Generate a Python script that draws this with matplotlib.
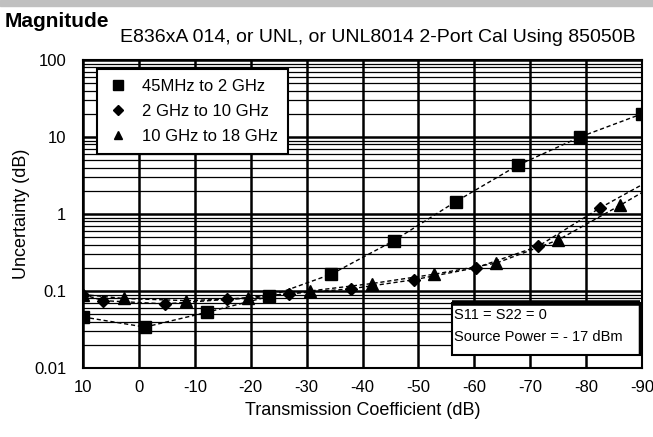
import matplotlib
matplotlib.use("Agg")
import matplotlib.pyplot as plt
from matplotlib.patches import Rectangle
from matplotlib.lines import Line2D

plt.rcParams['font.family'] = ['Liberation Sans', 'DejaVu Sans']

# Datos
x_sq = [10, -1.1, -12.2, -23.3, -34.4, -45.6, -56.7, -67.8, -78.9, -90]
y_sq = [0.046, 0.034, 0.053, 0.085, 0.165, 0.45, 1.45, 4.3, 10, 20]

x_dia = [10, 6.4, -4.7, -15.8, -26.9, -38, -49.2, -60.3, -71.4, -82.5, -90]
y_dia = [0.09, 0.075, 0.068, 0.078, 0.092, 0.107, 0.14, 0.2, 0.38, 1.2, 2.4]

x_tri = [10, 2.7, -8.4, -19.5, -30.6, -41.7, -52.8, -63.9, -75, -86.1, -90]
y_tri = [0.09, 0.08, 0.075, 0.08, 0.1, 0.125, 0.165, 0.23, 0.46, 1.3, 1.9]

labels = ['45MHz to 2 GHz', '2 GHz to 10 GHz', '10 GHz to 18 GHz']
x_ticks = [10, 0, -10, -20, -30, -40, -50, -60, -70, -80, -90]
y_ticks = [0.01, 0.1, 1, 10, 100]
y_ticklabels = ['0.01', '0.1', '1', '10', '100']

fig = plt.figure(figsize=(6.53, 4.37), dpi=100)
# franja gris arriba
fig.patches.append(Rectangle((0, 1 - 6 / 437), 1, 6 / 437, transform=fig.transFigure,
                             color='#c0c0c0', zorder=0))

ax = fig.add_axes([83 / 653, 1 - 368 / 437, 559 / 653, 308 / 437])
ax.set_xlim(10, -90)
ax.set_yscale('log')
ax.set_ylim(0.01, 100)

ls = (0, (3, 2))
ax.plot(x_sq, y_sq, color='black', lw=1, ls=ls, marker='s', ms=9, zorder=5)
ax.plot(x_dia, y_dia, color='black', lw=1, ls=ls, marker='D', ms=6.5,
        markevery=list(range(len(x_dia) - 1)), zorder=5)
ax.plot(x_tri, y_tri, color='black', lw=1, ls=ls, marker='^', ms=8,
        markevery=list(range(len(x_tri) - 1)), zorder=5)

ax.set_xticks(x_ticks)
ax.set_xticklabels([str(v) for v in x_ticks], fontsize=12)
ax.set_yticks(y_ticks)
ax.set_yticklabels(y_ticklabels, fontsize=12)
ax.tick_params(which='both', length=0)
ax.tick_params(axis='x', pad=9)
ax.tick_params(axis='y', pad=12)
ax.grid(True, which='major', color='black', lw=1.8)
ax.grid(True, which='minor', axis='y', color='black', lw=0.9)
for s in ax.spines.values():
    s.set_linewidth(1.5)

ax.set_xlabel('Transmission Coefficient (dB)', fontsize=13, labelpad=5)
ax.set_ylabel('Uncertainty (dB)', fontsize=13, labelpad=3)

# leyenda
handles = [
    Line2D([0], [0], color='w', marker='s', markerfacecolor='black', markeredgecolor='black', ms=7),
    Line2D([0], [0], color='w', marker='D', markerfacecolor='black', markeredgecolor='black', ms=5.5),
    Line2D([0], [0], color='w', marker='^', markerfacecolor='black', markeredgecolor='black', ms=6),
]
leg = ax.legend(handles, labels, loc='upper left', bbox_to_anchor=(0.025, 0.972),
                fontsize=12, frameon=True, fancybox=False, handlelength=1.3,
                handletextpad=0.8, borderpad=0.6, labelspacing=0.6,
                borderaxespad=0)
leg.get_frame().set_edgecolor('black')
leg.get_frame().set_linewidth(1.5)
leg.get_frame().set_alpha(1)

# caja de texto abajo a la derecha
x0, x1 = (452 - 83) / 559, (640 - 83) / 559
y0, y1 = 1 - (355 - 60) / 308, 1 - (303 - 60) / 308
ax.add_patch(Rectangle((x0, y0), x1 - x0, y1 - y0, transform=ax.transAxes,
                       facecolor='white', edgecolor='black', lw=1.5, zorder=9))
ax.plot([x0, x1], [y1, y1], transform=ax.transAxes, color='black', lw=4, zorder=10,
        solid_capstyle='butt')
ax.plot([x1, x1], [y0, y1], transform=ax.transAxes, color='black', lw=2.5, zorder=10,
        solid_capstyle='butt')
ax.text(x0 + 0.004, y1 - 0.04, 'S11 = S22 = 0', transform=ax.transAxes,
        fontsize=10.5, va='center', ha='left', zorder=11)
ax.text(x0 + 0.004, y1 - 0.112, 'Source Power = - 17 dBm', transform=ax.transAxes,
        fontsize=10.5, va='center', ha='left', zorder=11)

fig.text(5 / 653, 1 - 27 / 437, 'Magnitude', fontsize=15, fontweight='bold')
fig.text(120 / 653, 1 - 42 / 437, 'E836xA 014, or UNL, or UNL8014 2-Port Cal Using 85050B',
         fontsize=14)

fig.savefig('out.png', dpi=100)
